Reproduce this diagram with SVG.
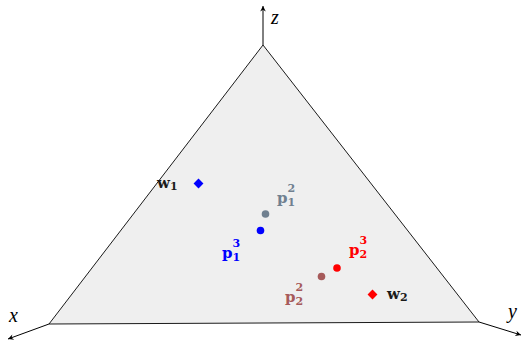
<svg xmlns="http://www.w3.org/2000/svg" width="524" height="341" viewBox="0 0 524 341">
<defs>
<marker id="ah" viewBox="0 0 10 10" refX="9" refY="5" markerWidth="7" markerHeight="7" orient="auto" markerUnits="userSpaceOnUse">
<path d="M1,1 L9,5 L1,9 L3.5,5 Z" fill="#000"/>
</marker>
</defs>
<style>
.ax{stroke:#000;stroke-width:1;fill:none}
.axl{font-family:"Liberation Serif",serif;font-style:italic;font-size:20px;fill:#000}
.lb{font-family:"DejaVu Serif","Liberation Serif",serif;font-weight:bold;font-size:15px}
.sb{font-size:11px}
</style>
<g id="triangle">
<polygon points="263,45 49,324 479,322" fill="#efefef" stroke="#000" stroke-width="0.9"/>
</g>
<g id="connectors">
<line class="ax" x1="263" y1="45" x2="263" y2="6" marker-end="url(#ah)"/>
<line class="ax" x1="49" y1="324" x2="8" y2="339" marker-end="url(#ah)"/>
<line class="ax" x1="479" y1="322" x2="521" y2="335" marker-end="url(#ah)"/>
</g>
<g id="axis-labels">
<text class="axl" x="271" y="24">z</text>
<text class="axl" x="9" y="322">x</text>
<text class="axl" x="508" y="318">y</text>
</g>
<g id="w1">
<rect x="195" y="180" width="7" height="7" fill="#0000ff" transform="rotate(45 198.5 183.5)"/>
<text class="lb" x="157" y="188" fill="#1a1a1a">w<tspan class="sb" dy="2">1</tspan></text>
</g>
<g id="p12">
<circle cx="265.5" cy="214" r="3.8" fill="#708090"/>
<text class="lb" x="277" y="203" fill="#708090">p<tspan class="sb" dy="3">1</tspan></text>
<text class="lb sb" x="287.5" y="192" fill="#708090">2</text>
</g>
<g id="p13">
<circle cx="260.5" cy="230.5" r="3.8" fill="#0000ff"/>
<text class="lb" x="222" y="258" fill="#0000ff">p<tspan class="sb" dy="3">1</tspan></text>
<text class="lb sb" x="232.5" y="247" fill="#0000ff">3</text>
</g>
<g id="p23">
<circle cx="337" cy="268" r="3.8" fill="#ff0000"/>
<text class="lb" x="349" y="255" fill="#ff0000">p<tspan class="sb" dy="3">2</tspan></text>
<text class="lb sb" x="359.5" y="244" fill="#ff0000">3</text>
</g>
<g id="p22">
<circle cx="321.5" cy="276.5" r="3.8" fill="#a65a5a"/>
<text class="lb" x="285" y="302" fill="#a65a5a">p<tspan class="sb" dy="3">2</tspan></text>
<text class="lb sb" x="295.5" y="291" fill="#a65a5a">2</text>
</g>
<g id="w2">
<rect x="369" y="291" width="7" height="7" fill="#ff0000" transform="rotate(45 372.5 294.5)"/>
<text class="lb" x="387" y="299" fill="#1a1a1a">w<tspan class="sb" dy="2">2</tspan></text>
</g>
</svg>
